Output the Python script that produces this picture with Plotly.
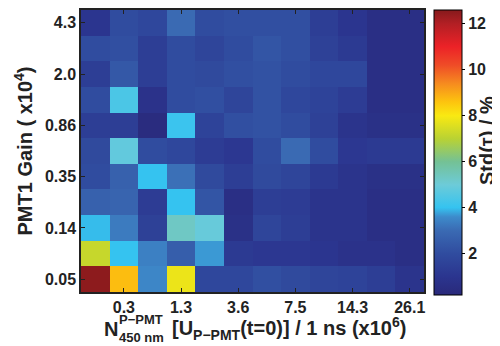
import plotly.graph_objects as go

# Column (x) tick labels at odd column indices, row (y) tick labels at even rows
x_tick_labels = ["0.3", "1.3", "3.6", "7.5", "14.3", "26.1"]
y_tick_labels = ["0.05", "0.14", "0.35", "0.86", "2.0", "4.3"]
n_cols = 12
n_rows = 11

# Std(tau) in %, rows from bottom (gain 0.05) to top (gain 4.3)
row00 = [12.5, 8.7, 3.5, 7.8, 1.8, 1.8, 2.1, 1.9, 1.7, 1.6, 1.4, 0.9]
row01 = [7.2, 4.0, 3.4, 2.6, 3.7, 1.2, 1.1, 1.1, 1.0, 0.8, 0.8, 0.6]
row02 = [3.95, 3.3, 1.5, 5.3, 4.9, 0.7, 1.7, 1.4, 0.9, 0.9, 0.6, 0.6]
row03 = [2.7, 2.8, 1.3, 4.0, 2.3, 0.6, 1.4, 1.3, 0.9, 0.9, 0.6, 0.6]
row04 = [2.0, 2.7, 4.0, 3.1, 1.9, 1.4, 1.9, 1.7, 1.2, 0.9, 0.7, 0.7]
row05 = [1.9, 4.8, 2.0, 1.8, 1.3, 1.1, 2.0, 3.0, 2.0, 1.1, 1.2, 1.2]
row06 = [1.4, 1.4, 0.4, 4.1, 1.6, 2.1, 2.2, 2.0, 1.5, 0.9, 0.7, 0.7]
row07 = [2.0, 4.4, 0.8, 2.0, 2.1, 1.7, 2.2, 1.8, 1.6, 1.3, 0.6, 0.6]
row08 = [1.4, 2.4, 1.4, 2.0, 1.9, 2.1, 2.2, 2.0, 1.8, 1.8, 0.6, 0.6]
row09 = [2.0, 2.1, 1.4, 2.0, 1.7, 2.0, 2.3, 2.1, 1.5, 1.2, 0.6, 0.6]
row10 = [1.0, 2.0, 1.8, 3.0, 2.0, 2.1, 2.1, 2.1, 1.4, 1.0, 0.6, 0.6]
z_values = [row00, row01, row02, row03, row04, row05, row06, row07, row08, row09, row10]

z_min = 0.2
z_max = 12.6
cbar_ticks = [2, 4, 6, 8, 10, 12]

def pos(v):
    return (v - z_min) / (z_max - z_min)

colorscale = [
    [0.0, "#29297a"],
    [pos(1.0), "#2b358f"],
    [pos(2.0), "#304c9f"],
    [pos(3.0), "#3a6ab3"],
    [pos(3.6), "#3d8bcb"],
    [pos(4.0), "#35c3f0"],
    [pos(5.0), "#6dcbd8"],
    [pos(6.0), "#74c195"],
    [pos(7.0), "#b9d233"],
    [pos(8.0), "#f9e912"],
    [pos(8.6), "#fdc40e"],
    [pos(9.4), "#f68b1f"],
    [pos(10.2), "#ef4c27"],
    [pos(11.0), "#ec2227"],
    [pos(12.0), "#b31f24"],
    [1.0, "#861a1c"],
]

FONT = "Arial, Liberation Sans, Helvetica, sans-serif"
INK = "#222"

# The page body has an 8px default margin; size the figure to fit the window.
OFF = 8
W, H = 500 - OFF, 346 - OFF
ML, MR, MT, MB = 73, 76, 0, 54
pw = W - ML - MR
ph = H - MT - MB

def px(page_x):
    return (page_x - OFF - ML) / pw

def py(page_y):
    return (MT + ph - (page_y - OFF)) / ph

fig = go.Figure(
    go.Heatmap(
        z=z_values,
        x=list(range(n_cols)),
        y=list(range(n_rows)),
        zmin=z_min,
        zmax=z_max,
        colorscale=colorscale,
        colorbar=dict(
            x=px(434),
            xanchor="left",
            y=1.0,
            yanchor="top",
            yref="paper",
            len=ph + 1,
            lenmode="pixels",
            thickness=28,
            thicknessmode="pixels",
            outlinecolor="black",
            outlinewidth=1,
            tickvals=cbar_ticks,
            ticks="outside",
            ticklen=3,
            tickcolor="black",
            tickfont=dict(family=FONT, size=16, color=INK, weight="bold"),
            xpad=0,
            ypad=0,
        ),
    )
)

axis_common = dict(
    ticks="inside",
    ticklen=4,
    tickcolor=INK,
    showline=True,
    linecolor=INK,
    linewidth=1.5,
    mirror="ticks",
    showgrid=False,
    zeroline=False,
    tickfont=dict(family=FONT, size=16, color=INK, weight="bold"),
)
fig.update_xaxes(
    range=[-0.5, n_cols - 0.5],
    tickvals=[1, 3, 5, 7, 9, 11],
    ticktext=x_tick_labels,
    **axis_common,
)
fig.update_yaxes(
    range=[-0.5, n_rows - 0.5],
    tickvals=[0, 2, 4, 6, 8, 10],
    ticktext=y_tick_labels,
    title=dict(text="PMT1 Gain ( x10<sup>4</sup>)", standoff=7,
               font=dict(family=FONT, size=20, color=INK, weight="bold")),
    **axis_common,
)

tfont = dict(family=FONT, size=20, color=INK, weight="bold")
sfont = dict(family=FONT, size=13, color=INK, weight="bold")
ann = [
    dict(text="N", x=px(103), y=py(329), xanchor="left", yanchor="middle", font=tfont),
    dict(text="P−PMT", x=px(118), y=py(320), xanchor="left", yanchor="middle", font=sfont),
    dict(text="450 nm", x=px(118), y=py(338), xanchor="left", yanchor="middle", font=sfont),
    dict(text="[U<sub>P−PMT</sub>(t=0)] / 1 ns (x10<sup>6</sup>)", x=px(171), y=py(329),
         xanchor="left", yanchor="middle", font=tfont),
    dict(text="Std(τ) / %", x=px(487), y=py(140), xanchor="center", yanchor="middle",
         textangle=-90, font=tfont),
]
for a in ann:
    a.update(xref="paper", yref="paper", showarrow=False, borderpad=0)

fig.update_layout(
    width=W,
    height=H,
    margin=dict(l=ML, r=MR, t=MT, b=MB),
    paper_bgcolor="white",
    plot_bgcolor="white",
    annotations=ann,
)

fig.write_html("out.html")
